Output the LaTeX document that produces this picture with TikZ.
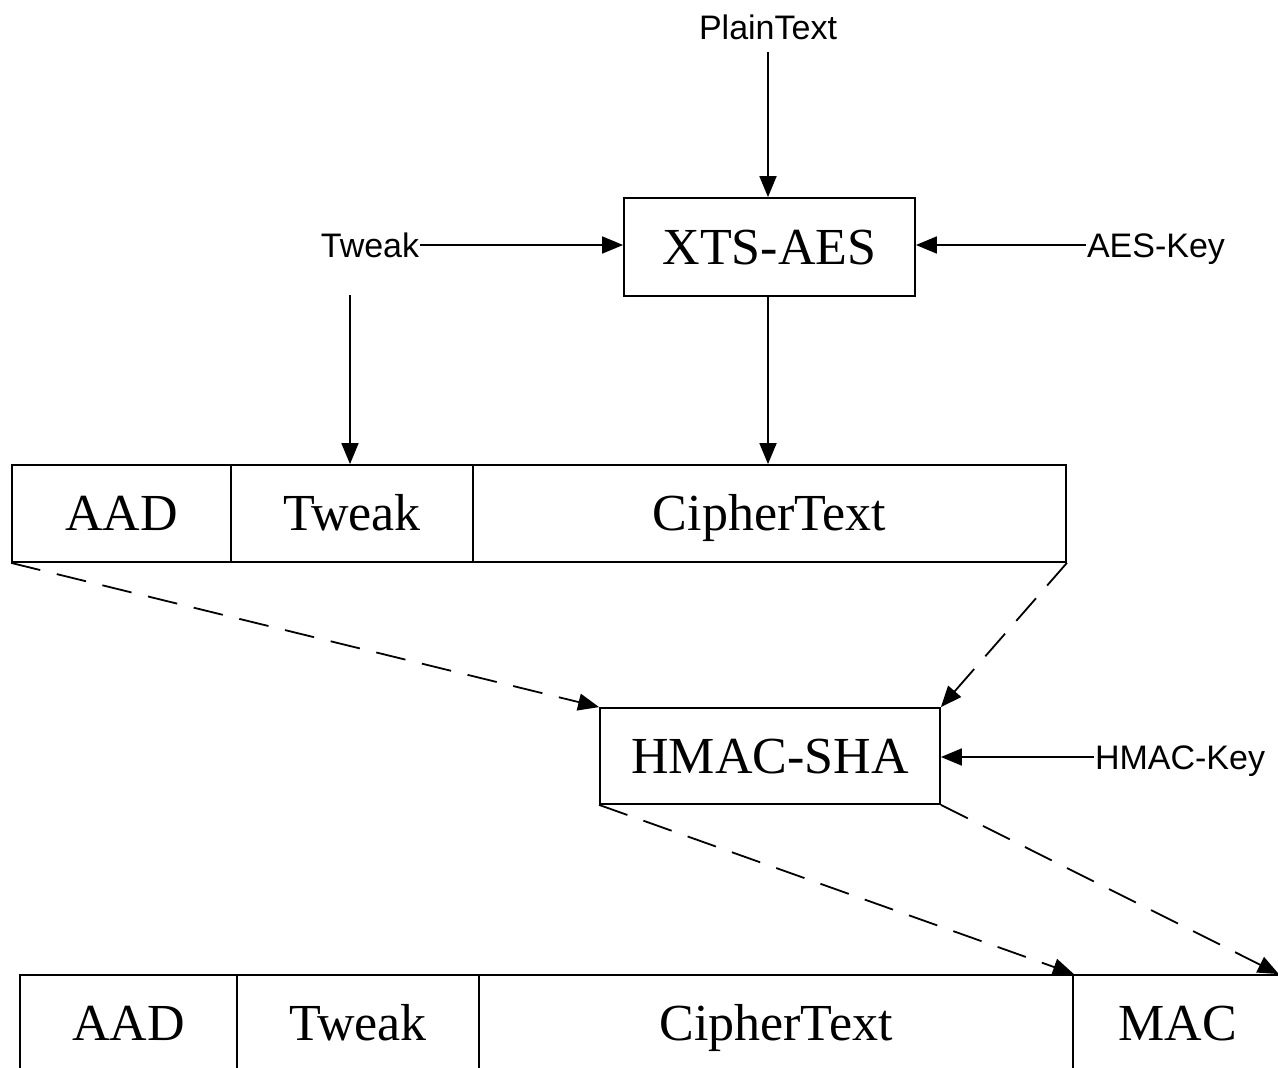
\documentclass[tikz,border=0pt]{standalone}
\usepackage{fontspec}
\setmainfont{Liberation Serif}
\newfontfamily\labelfont{Liberation Sans}
\usetikzlibrary{arrows.meta}
\begin{document}
\begin{tikzpicture}[x=1pt, y=-1pt,
  line width=1.8pt,
  box/.style={draw, inner sep=0pt, text height=34pt, text depth=0pt,
    font=\fontsize{52}{62}\selectfont},
  cell/.style={box, minimum height=97pt},
  lbl/.style={inner sep=0pt, text height=24pt, text depth=0pt,
    font=\labelfont\fontsize{34}{40}\selectfont},
  arr/.style={-{Triangle[length=21pt,width=17pt]}},
  darr/.style={arr, dash pattern=on 30pt off 17pt}
]
\useasboundingbox (0,0) rectangle (1278,1068);
\clip (0,0) rectangle (1278,1068);

% encryption stage
\node[box, minimum width=291pt, minimum height=98pt] (xts) at (769.5,247) {XTS-AES};
\node[lbl] (plain) at (768,27) {PlainText};
\node[lbl] (tweakin) at (370,245) {Tweak};
\node[lbl] (aeskey) at (1156,245) {AES-Key};

% packet after encryption
\node[cell, minimum width=219pt] (aad1) at (121.5,513.5) {AAD};
\node[cell, minimum width=242pt] (tweak1) at (352,513.5) {Tweak};
\node[cell, minimum width=593pt] (ct1) at (769.5,513.5) {CipherText};

% authentication stage
\node[box, minimum width=340pt, minimum height=96pt] (hmac) at (770,756) {HMAC-SHA};
\node[lbl] (hmackey) at (1180,757) {HMAC-Key};

% final packet
\node[cell, minimum width=217pt] (aad2) at (128.5,1023.5) {AAD};
\node[cell, minimum width=242pt] (tweak2) at (358,1023.5) {Tweak};
\node[cell, minimum width=594pt] (ct2) at (776,1023.5) {CipherText};
\node[cell, minimum width=209pt] (mac) at (1177.5,1023.5) {MAC};

% solid connectors
\coordinate (plainout) at (768,52);
\coordinate (tweakout) at (350,295);
\draw[arr] (plainout) -- (plainout |- xts.north);
\draw[arr] (tweakin.east) -- (xts.west |- tweakin.east);
\draw[arr] (aeskey.west) -- (xts.east |- aeskey.west);
\draw[arr] (tweakout) -- (tweakout |- tweak1.north);
\draw[arr] (xts.south -| plainout) -- (plainout |- ct1.north);
\draw[arr] (hmackey.west) -- (hmac.east |- hmackey.west);

% dashed connectors
\draw[darr] (aad1.south west) -- (hmac.north west);
\draw[darr] (ct1.south east) -- (hmac.north east);
\draw[darr] (hmac.south west) -- (ct2.north east);
\draw[darr] (hmac.south east) -- ([xshift=-4pt]mac.north east);
\end{tikzpicture}
\end{document}
